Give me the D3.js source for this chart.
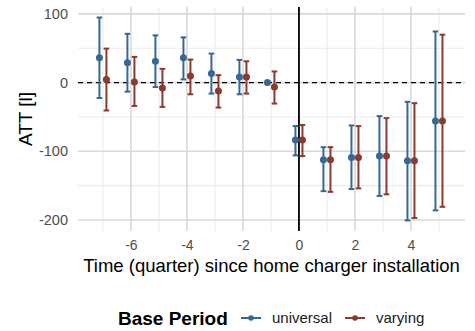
<!DOCTYPE html>
<html>
<head>
<meta charset="utf-8">
<script src="https://cdn.jsdelivr.net/npm/d3@7"></script>
<style>
  html, body { margin: 0; padding: 0; background: #fff; }
  svg { display: block; font-family: "Liberation Sans", Arial, sans-serif; }
</style>
</head>
<body>
<svg id="chart" width="475" height="331"></svg>
<script>
// Event-study estimates by quarter relative to charger installation
const quarters = [-7, -6, -5, -4, -3, -2, -1, 0, 1, 2, 3, 4, 5];

const universalEst = [36, 28.7, 31, 36, 13.3, 8, 0, -83.5, -112.4, -109, -107, -113.9, -56];
const universalLo  = [-22.4, -13.2, -6.5, 4.6, -16, -17, null, -106, -158, -155, -165, -200.6, -186];
const universalHi  = [94.7, 71, 68.7, 65.8, 42.2, 33, null, -63.3, -94, -62.4, -48.8, -28, 74.4];

const varyingEst = [4.6, 0.8, -7.9, 9.4, -12.3, 8, -6.5, -83.5, -112.4, -109, -107, -113.9, -56];
const varyingLo  = [-40.6, -34, -35.4, -17, -36.3, -16, -30.5, -107, -159, -154, -162.6, -197, -180.8];
const varyingHi  = [49.4, 37.4, 20, 33.5, 10.8, 31, 16.2, -61.8, -94, -63.3, -51.7, -30, 69.7];

const seriesNames = ["universal", "varying"];
const seriesColors = ["#376894", "#8c3a2f"];

const xTicks = [-6, -4, -2, 0, 2, 4];
const xMinor = [-7, -5, -3, -1, 1, 3, 5];
const yTicks = [100, 0, -100, -200];
const yMinor = [50, -50, -150];

const svg = d3.select("#chart");
const panel = { left: 78, right: 465, top: 7, bottom: 231 };

const x = d3.scaleLinear().domain([-7.89, 5.93]).range([panel.left, panel.right]);
const y = d3.scaleLinear().domain([-216, 110]).range([panel.bottom, panel.top]);
const dodge = d3.scalePoint().domain(seriesNames).range([-0.125, 0.125]);
const plainNum = d => String(d);

// gridlines
const grid = svg.append("g");
grid.selectAll(".ymin").data(yMinor).join("line")
  .attr("x1", panel.left).attr("x2", panel.right)
  .attr("y1", d => y(d)).attr("y2", d => y(d))
  .attr("stroke", "#ebebeb").attr("stroke-width", 1.1);
grid.selectAll(".xmin").data(xMinor).join("line")
  .attr("y1", panel.top).attr("y2", panel.bottom)
  .attr("x1", d => x(d)).attr("x2", d => x(d))
  .attr("stroke", "#ebebeb").attr("stroke-width", 1.1);
grid.selectAll(".ymaj").data(yTicks).join("line")
  .attr("x1", panel.left).attr("x2", panel.right)
  .attr("y1", d => y(d)).attr("y2", d => y(d))
  .attr("stroke", "#d9d9d9").attr("stroke-width", 1.6);
grid.selectAll(".xmaj").data(xTicks).join("line")
  .attr("y1", panel.top).attr("y2", panel.bottom)
  .attr("x1", d => x(d)).attr("x2", d => x(d))
  .attr("stroke", "#d9d9d9").attr("stroke-width", 1.6);

// axes (text only)
const yAxis = svg.append("g")
  .attr("transform", `translate(${panel.left - 6},0)`)
  .call(d3.axisLeft(y).tickValues(yTicks).tickFormat(plainNum).tickSize(0).tickPadding(4));
yAxis.select(".domain").remove();
yAxis.selectAll("text").attr("fill", "#4d4d4d").style("font-size", "14.5px")
  .style("font-family", "'Liberation Sans', Arial, sans-serif");

const xAxis = svg.append("g")
  .attr("transform", `translate(0,${panel.bottom + 5})`)
  .call(d3.axisBottom(x).tickValues(xTicks).tickFormat(plainNum).tickSize(0).tickPadding(4));
xAxis.select(".domain").remove();
xAxis.selectAll("text").attr("fill", "#4d4d4d").style("font-size", "14px")
  .style("font-family", "'Liberation Sans', Arial, sans-serif");

// reference lines
svg.append("line")
  .attr("x1", panel.left).attr("x2", panel.right)
  .attr("y1", y(0)).attr("y2", y(0))
  .attr("stroke", "#000").attr("stroke-width", 1.2)
  .attr("stroke-dasharray", "5,4");
svg.append("line")
  .attr("x1", x(0)).attr("x2", x(0))
  .attr("y1", panel.top).attr("y2", panel.bottom)
  .attr("stroke", "#000").attr("stroke-width", 1.8);

// error bars and points
const rows = [];
quarters.forEach((q, i) => {
  rows.push({ s: "universal", q, est: universalEst[i], lo: universalLo[i], hi: universalHi[i] });
  rows.push({ s: "varying", q, est: varyingEst[i], lo: varyingLo[i], hi: varyingHi[i] });
});
const color = d3.scaleOrdinal().domain(seriesNames).range(seriesColors);
const capHalf = 0.1;

const marks = svg.append("g");
rows.forEach(r => {
  const cx = r.q + dodge(r.s);
  const g = marks.append("g").attr("stroke", color(r.s)).attr("fill", color(r.s));
  if (r.lo !== null && r.hi !== null) {
    g.append("line").attr("x1", x(cx)).attr("x2", x(cx))
      .attr("y1", y(r.lo)).attr("y2", y(r.hi)).attr("stroke-width", 2);
    [r.lo, r.hi].forEach(v => {
      g.append("line").attr("x1", x(cx - capHalf)).attr("x2", x(cx + capHalf))
        .attr("y1", y(v)).attr("y2", y(v)).attr("stroke-width", 2);
    });
  }
  g.append("circle").attr("cx", x(cx)).attr("cy", y(r.est)).attr("r", 3.5).attr("stroke", "none");
});

// axis titles
svg.append("text")
  .attr("x", (panel.left + panel.right) / 2).attr("y", 272)
  .attr("text-anchor", "middle").attr("fill", "#000")
  .style("font-size", "18.5px")
  .text("Time (quarter) since home charger installation");
svg.append("text")
  .attr("transform", `translate(32,${(panel.top + panel.bottom) / 2}) rotate(-90)`)
  .attr("text-anchor", "middle").attr("fill", "#000")
  .style("font-size", "19px")
  .text("ATT [l]");

// legend
const legend = svg.append("g").attr("transform", "translate(0,318)");
legend.append("text").attr("x", 118).attr("y", 7)
  .style("font-size", "19px").style("font-weight", "bold").attr("fill", "#000")
  .text("Base Period");
const keyX = [241, 345];
seriesNames.forEach((name, i) => {
  const k = legend.append("g").attr("transform", `translate(${keyX[i]},0)`);
  k.append("line").attr("x1", 0).attr("x2", 20).attr("y1", 0).attr("y2", 0)
    .attr("stroke", seriesColors[i]).attr("stroke-width", 2);
  k.append("circle").attr("cx", 10).attr("cy", 0).attr("r", 2.8).attr("fill", seriesColors[i]);
  k.append("text").attr("x", 31).attr("y", 5)
    .style("font-size", "15px").attr("fill", "#1a1a1a").text(name);
});
</script>
</body>
</html>
